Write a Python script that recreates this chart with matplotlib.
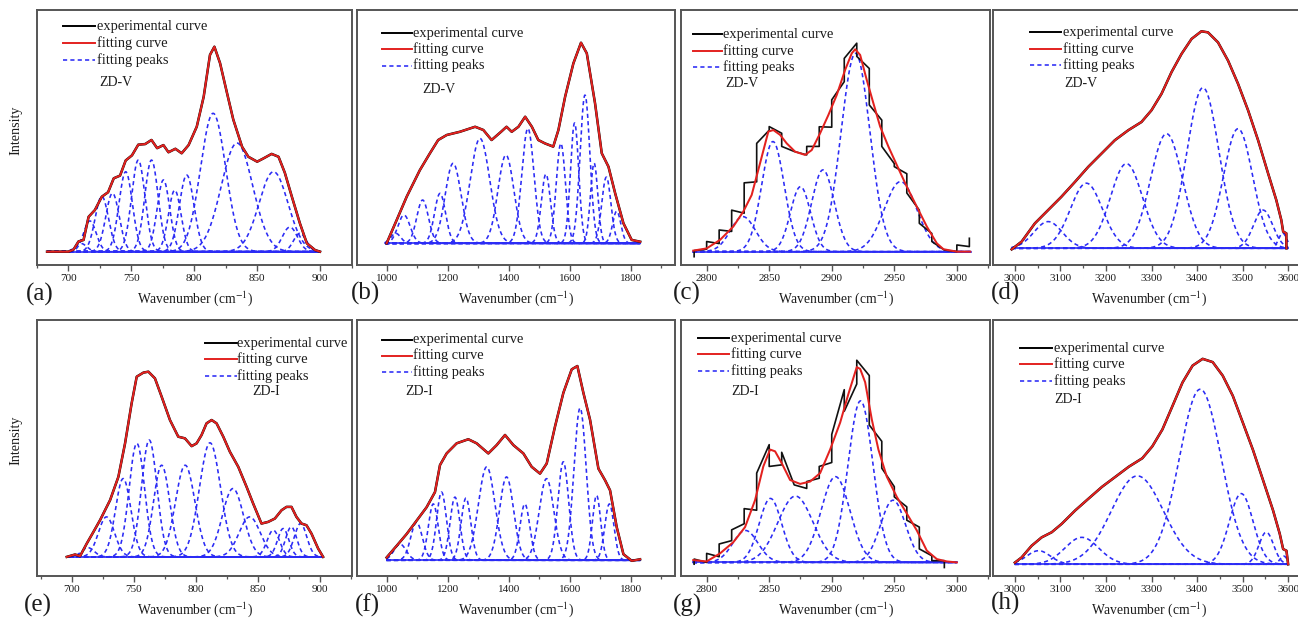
import numpy as np
import matplotlib.pyplot as plt
from matplotlib.ticker import MultipleLocator

plt.rcParams["font.family"] = ["Liberation Serif", "DejaVu Serif"]
plt.rcParams["mathtext.fontset"] = "stix"

RED = "#e3211f"
BLUE = "#2b2bf5"
INK = "#1c1c1c"
FRAME = "#555555"

# ---------------- ZD-V, 700-900 ----------------
a_fit_x = [683, 700, 704, 708, 712, 716, 721, 726.5, 731.5, 736, 741, 745.5, 750.5, 755.5,
           761, 766, 770.5, 775.5, 779.5, 785, 790, 795.5, 802, 807.5, 812.5, 816, 820.5,
           826, 831, 838, 843, 850, 855, 861.5, 867, 872, 877.5, 884, 889.5, 896, 900]
a_fit_y = [0, 0, 0.01, 0.05, 0.057, 0.17, 0.203, 0.268, 0.29, 0.358, 0.371, 0.445, 0.47, 0.522,
           0.525, 0.545, 0.505, 0.52, 0.485, 0.502, 0.48, 0.52, 0.61, 0.756, 0.96, 1.0, 0.92,
           0.775, 0.645, 0.512, 0.463, 0.439, 0.455, 0.477, 0.463, 0.385, 0.27, 0.138, 0.041, 0.008, 0]
a_pos = [710, 717, 726.5, 735, 745.5, 755.5, 766, 775.5, 784.5, 794, 815, 834, 863, 876, 884]
a_amp = [0.04, 0.15, 0.27, 0.285, 0.39, 0.447, 0.447, 0.35, 0.30, 0.374, 0.675, 0.53, 0.39, 0.12, 0.09]
a_sig = [4.5, 5, 5.3, 5.3, 5.3, 5.3, 5.3, 5, 5, 5.8, 10, 12.5, 11.5, 6, 5]

# ---------------- ZD-V, 1000-1800 ----------------
b_fit_x = [1000, 1033, 1066, 1109, 1142, 1169, 1197, 1240, 1290, 1317, 1344, 1375, 1393, 1410,
           1432, 1454, 1476, 1497, 1519, 1546, 1563, 1585, 1612, 1637, 1656, 1683, 1705, 1727,
           1749, 1776, 1803, 1831]
b_fit_y = [0, 0.116, 0.233, 0.365, 0.449, 0.515, 0.54, 0.556, 0.581, 0.565, 0.515, 0.556, 0.581,
           0.556, 0.581, 0.631, 0.581, 0.515, 0.498, 0.482, 0.565, 0.731, 0.897, 1.0, 0.947,
           0.698, 0.449, 0.382, 0.249, 0.1, 0.017, 0.008]
b_pos = [1030, 1057, 1118, 1175, 1218, 1306, 1391, 1463, 1522, 1571, 1616, 1650, 1680, 1720, 1754]
b_amp = [0.05, 0.141, 0.216, 0.249, 0.399, 0.523, 0.44, 0.573, 0.345, 0.498, 0.60, 0.739, 0.40, 0.33, 0.16]
b_sig = [16, 20, 19, 18, 26, 32, 26, 20, 15, 15, 13.5, 16, 12, 15, 13.5]

# ---------------- ZD-V, 2800-3000 ----------------
c_fit_x = [2789.3, 2800, 2810.7, 2821.3, 2829.3, 2836, 2842.7, 2849.3, 2853.3, 2858.7, 2864,
           2870.7, 2878.7, 2884, 2890.7, 2897.3, 2904, 2910.7, 2916, 2918.7, 2922.7, 2928,
           2933.3, 2938.7, 2945.3, 2952, 2960, 2968, 2976, 2984, 2989.3, 3000, 3010.7]
c_fit_y = [0.005, 0.016, 0.058, 0.124, 0.198, 0.28, 0.437, 0.593, 0.601, 0.577, 0.535, 0.494,
           0.478, 0.502, 0.585, 0.675, 0.774, 0.898, 0.98, 1.0, 0.972, 0.848, 0.733, 0.618,
           0.519, 0.428, 0.321, 0.222, 0.124, 0.041, 0.012, 0, 0]
c_exp_x = [2790, 2800, 2810, 2820, 2830, 2840, 2850, 2860, 2870, 2880, 2890, 2900, 2910, 2920,
           2930, 2940, 2950, 2960, 2970, 2980, 2990, 3000, 3010]
c_exp_in = [-0.025, 0.012, 0.040, 0.100, 0.190, 0.345, 0.600, 0.585, 0.495, 0.478, 0.520, 0.615,
            0.840, 1.030, 0.905, 0.650, 0.435, 0.385, 0.205, 0.090, 0.008, 0.000, 0.025]
c_exp_out = [0.005, 0.050, 0.107, 0.205, 0.340, 0.535, 0.618, 0.520, 0.495, 0.520, 0.617, 0.750,
             0.955, 0.965, 0.725, 0.520, 0.420, 0.290, 0.140, 0.050, 0.008, 0.033, 0.066]
c_pos = [2829, 2853, 2875, 2893, 2919, 2955]
c_amp = [0.173, 0.544, 0.321, 0.404, 0.98, 0.346]
c_sig = [10, 9, 8, 9, 11.5, 13]

# ---------------- ZD-V, 3000-3600 ----------------
d_fit_x = [2993, 3015, 3044, 3073, 3102, 3132, 3161, 3190, 3219.5, 3249, 3278, 3300, 3322, 3344,
           3366, 3388, 3409.6, 3424, 3446, 3468, 3490, 3512, 3534, 3556, 3574, 3585, 3589, 3596, 3596.2]
d_fit_y = [-0.005, 0.031, 0.115, 0.176, 0.237, 0.306, 0.375, 0.436, 0.498, 0.544, 0.582, 0.636,
           0.712, 0.812, 0.896, 0.965, 1.0, 0.995, 0.949, 0.865, 0.758, 0.636, 0.498, 0.345,
           0.222, 0.13, 0.077, 0.069, 0]
d_pos = [3073, 3157, 3245, 3333, 3413, 3490, 3545, 3588]
d_amp = [0.123, 0.30, 0.39, 0.528, 0.74, 0.551, 0.176, 0.07]
d_sig = [31, 35, 35, 35, 35, 32, 21, 9]

# ---------------- ZD-I, 700-900 ----------------
e_fit_x = [696, 702.7, 706.7, 712.1, 717.5, 722.8, 730.9, 737.6, 743, 748.3, 752.4, 757.8, 761.8,
           767.1, 772.5, 779.2, 785.9, 791.3, 796.7, 800.7, 804.7, 808.7, 812.8, 816.8, 822.2,
           827.5, 834.3, 841, 846.3, 853, 858.4, 863.8, 869.2, 873.2, 877.2, 881.2, 885.3,
           889.3, 893.3, 898.7, 902.7]
e_fit_y = [0, 0.013, 0.004, 0.072, 0.135, 0.198, 0.306, 0.432, 0.613, 0.829, 0.973, 0.995, 1.0,
           0.964, 0.865, 0.739, 0.649, 0.64, 0.598, 0.613, 0.658, 0.721, 0.739, 0.721, 0.649,
           0.568, 0.486, 0.378, 0.288, 0.18, 0.189, 0.207, 0.252, 0.27, 0.27, 0.216, 0.18,
           0.171, 0.126, 0.045, 0]
e_pos = [713, 728, 741.5, 752.5, 762.5, 772.5, 791.5, 811.5, 830, 843.5, 862.5, 870.5, 877, 884.5]
e_amp = [0.05, 0.216, 0.423, 0.613, 0.631, 0.495, 0.495, 0.616, 0.369, 0.216, 0.144, 0.153, 0.162, 0.18]
e_sig = [5, 6.5, 6.2, 6.2, 6.2, 6.5, 7.8, 8.5, 8.5, 8.5, 5, 4.5, 4.5, 5]

# ---------------- ZD-I, 1000-1800 ----------------
f_fit_x = [1000, 1032.8, 1065.6, 1098.4, 1131.1, 1158.5, 1174.9, 1196.7, 1229.5, 1267.8, 1295.1,
           1333.3, 1360.7, 1388, 1415.3, 1448.1, 1475.4, 1502.7, 1524.6, 1551.9, 1579.2, 1606.6,
           1625.1, 1644.8, 1666.7, 1694, 1715.8, 1732.2, 1754.1, 1776, 1803.3, 1830.6]
f_fit_y = [0.014, 0.074, 0.135, 0.204, 0.273, 0.351, 0.49, 0.55, 0.602, 0.623, 0.602, 0.55, 0.593,
           0.645, 0.593, 0.55, 0.481, 0.446, 0.498, 0.689, 0.862, 0.983, 1.0, 0.862, 0.723,
           0.472, 0.412, 0.36, 0.17, 0.031, -0.003, 0.005]
f_pos = [1044, 1098, 1153, 1180, 1224, 1260, 1328, 1393, 1453, 1524, 1579, 1634, 1688, 1730]
f_amp = [0.083, 0.195, 0.29, 0.351, 0.325, 0.32, 0.481, 0.429, 0.29, 0.42, 0.507, 0.784, 0.334, 0.29]
f_sig = [20, 19, 16, 16, 16, 16, 27, 23, 16, 24, 17.5, 20, 13.5, 15]

# ---------------- ZD-I, 2800-3000 ----------------
g_fit_x = [2789.3, 2800, 2810.7, 2821.3, 2830.7, 2838.7, 2845.3, 2850.7, 2854.7, 2860, 2866.7,
           2874.7, 2882.7, 2890.7, 2898.7, 2906.7, 2913.3, 2920, 2922.7, 2926.7, 2932, 2937.3,
           2944, 2952, 2960, 2968, 2976, 2984, 2992, 3000]
g_fit_y = [0.012, 0.005, 0.046, 0.103, 0.18, 0.317, 0.489, 0.575, 0.566, 0.506, 0.42, 0.4, 0.412,
           0.455, 0.575, 0.712, 0.858, 0.995, 0.986, 0.918, 0.729, 0.575, 0.437, 0.334, 0.249,
           0.163, 0.06, 0.017, 0.005, 0]
g_exp_x = [2790, 2800, 2810, 2820, 2830, 2840, 2850, 2860, 2870, 2880, 2890, 2900, 2910, 2920,
           2930, 2940, 2950, 2960, 2970, 2980, 2990]
g_exp_in = [-0.009, 0.000, 0.029, 0.111, 0.197, 0.266, 0.600, 0.497, 0.395, 0.377, 0.429, 0.509,
            0.880, 0.909, 0.952, 0.617, 0.386, 0.283, 0.180, 0.034, 0.009]
g_exp_out = [0.017, 0.046, 0.094, 0.166, 0.274, 0.455, 0.489, 0.561, 0.395, 0.412, 0.489, 0.652,
             0.770, 1.030, 0.700, 0.480, 0.334, 0.215, 0.069, 0.009, -0.026]
g_pos = [2831, 2851, 2871, 2903, 2923, 2949]
g_amp = [0.163, 0.326, 0.338, 0.437, 0.823, 0.317]
g_sig = [10, 9, 14, 11.5, 10, 10]

# ---------------- ZD-I, 3000-3600 ----------------
h_fit_x = [3000, 3014.7, 3036.8, 3058.9, 3081, 3103, 3132.5, 3162, 3191.4, 3220.9, 3250.3, 3279.8,
           3301.8, 3323.9, 3346, 3368.1, 3390.2, 3412.3, 3434.4, 3456.4, 3478.5, 3500.6, 3522.7,
           3544.8, 3566.9, 3581.6, 3589, 3596.3, 3600]
h_fit_y = [0.008, 0.033, 0.09, 0.131, 0.156, 0.197, 0.262, 0.32, 0.377, 0.426, 0.475, 0.516,
           0.574, 0.656, 0.77, 0.885, 0.967, 1.0, 0.984, 0.918, 0.82, 0.689, 0.557, 0.41, 0.262,
           0.148, 0.074, 0.066, 0]
h_pos = [3052, 3147, 3269, 3407, 3497, 3552, 3590]
h_amp = [0.066, 0.131, 0.43, 0.852, 0.344, 0.156, 0.04]
h_sig = [26, 37, 57, 46, 26, 16, 8]

labels = ["experimental curve", "fitting curve", "fitting peaks"]


def gauss(x, pos, amp, sig):
    return amp * np.exp(-0.5 * ((x - pos) / sig) ** 2)


def steps(xs, y_in, y_out):
    # every sample is a short vertical jump, then a slope to the next one
    return np.repeat(xs, 2), np.column_stack([y_in, y_out]).ravel()


def panel(rect, fit_x, fit_y, pos, amp, sig, span, xlim, ylim, major, minor, exp=None):
    ax = fig.add_axes(rect)
    xs = np.linspace(span[0], span[1], 900)
    for p, a, s in zip(pos, amp, sig):
        ax.plot(xs, gauss(xs, p, a, s), color=BLUE, lw=1.15, dashes=(2.6, 2.0))
    ax.plot(span, [0, 0], color=BLUE, lw=1.2)
    if exp is None:
        ax.plot(fit_x, fit_y, color="black", lw=1.8)
    else:
        ax.plot(exp[0], exp[1], color="#111111", lw=1.2)
    ax.plot(fit_x, fit_y, color=RED, lw=1.45)
    ax.set_xlim(*xlim)
    ax.set_ylim(*ylim)
    ax.set_yticks([])
    ax.xaxis.set_major_locator(MultipleLocator(major))
    ax.xaxis.set_minor_locator(MultipleLocator(minor))
    ax.tick_params(axis="x", which="major", direction="out", length=4, width=1.0,
                   color=FRAME, labelsize=8, labelcolor=INK, pad=2.5)
    ax.tick_params(axis="x", which="minor", direction="out", length=2.5, width=0.9, color=FRAME)
    for sp in ax.spines.values():
        sp.set_color(FRAME)
        sp.set_linewidth(1.4)
    ax.text(0.5, -0.13, "Wavenumber (cm$^{-1}$)", transform=ax.transAxes,
            ha="center", va="center", fontsize=9.8, color=INK)
    return ax


def key(ax, hx0, hx1, tx, rows, tag_xy, tag):
    styles = [dict(color="black", lw=1.4),
              dict(color=RED, lw=1.4),
              dict(color=BLUE, lw=1.15, dashes=(2.6, 2.0))]
    for y, st, lab in zip(rows, styles, labels):
        ax.plot([hx0, hx1], [y, y], transform=ax.transAxes, **st)
        ax.text(tx, y, lab, transform=ax.transAxes, ha="left", va="center",
                fontsize=10.4, color=INK)
    ax.text(tag_xy[0], tag_xy[1], tag, transform=ax.transAxes, ha="left", va="center",
            fontsize=10, color=INK)


fig = plt.figure(figsize=(12.98, 6.18), dpi=100)

top_b, top_h = 0.5712, 0.4126
bot_b, bot_h = 0.0680, 0.4142
cols = [(0.02851, 0.24268), (0.27504, 0.24499), (0.52465, 0.23806), (0.76502, 0.24037)]

ax = panel([cols[0][0], top_b, cols[0][1], top_h], a_fit_x, a_fit_y, a_pos, a_amp, a_sig,
           (683, 900), (675, 925.4), (-0.065, 1.179), 50, 25)
key(ax, 0.083, 0.184, 0.19, [0.937, 0.872, 0.805], (0.197, 0.714), "ZD-V")

ax = panel([cols[1][0], top_b, cols[1][1], top_h], b_fit_x, b_fit_y, b_pos, b_amp, b_sig,
           (995, 1831), (903, 1945), (-0.108, 1.163), 200, 100)
key(ax, 0.078, 0.172, 0.175, [0.909, 0.846, 0.782], (0.205, 0.69), "ZD-V")

ax = panel([cols[2][0], top_b, cols[2][1], top_h], c_fit_x, c_fit_y, c_pos, c_amp, c_sig,
           (2789, 3011), (2779.5, 3026.5), (-0.066, 1.194), 50, 25,
           exp=steps(c_exp_x, c_exp_in, c_exp_out))
key(ax, 0.04, 0.132, 0.137, [0.905, 0.840, 0.777], (0.142, 0.712), "ZD-V")

ax = panel([cols[3][0], top_b, cols[3][1], top_h], d_fit_x, d_fit_y, d_pos, d_amp, d_sig,
           (2993, 3600), (2952, 3637), (-0.077, 1.098), 100, 50)
key(ax, 0.119, 0.218, 0.223, [0.912, 0.847, 0.784], (0.228, 0.712), "ZD-V")

ax = panel([cols[0][0], bot_b, cols[0][1], bot_h], e_fit_x, e_fit_y, e_pos, e_amp, e_sig,
           (698, 903), (672, 926), (-0.103, 1.279), 50, 25)
key(ax, 0.533, 0.634, 0.636, [0.909, 0.846, 0.782], (0.682, 0.72), "ZD-I")

ax = panel([cols[1][0], bot_b, cols[1][1], bot_h], f_fit_x, f_fit_y, f_pos, f_amp, f_sig,
           (1000, 1831), (903, 1945), (-0.081, 1.237), 200, 100)
key(ax, 0.078, 0.172, 0.175, [0.922, 0.861, 0.798], (0.151, 0.719), "ZD-I")

ax = panel([cols[2][0], bot_b, cols[2][1], bot_h], g_fit_x, g_fit_y, g_pos, g_amp, g_sig,
           (2789, 3000), (2779.5, 3026.5), (-0.069, 1.235), 50, 25,
           exp=steps(g_exp_x, g_exp_in, g_exp_out))
key(ax, 0.056, 0.156, 0.161, [0.928, 0.866, 0.801], (0.164, 0.719), "ZD-I")

ax = panel([cols[3][0], bot_b, cols[3][1], bot_h], h_fit_x, h_fit_y, h_pos, h_amp, h_sig,
           (3000, 3600), (2952, 3637), (-0.057, 1.189), 100, 50)
key(ax, 0.087, 0.188, 0.194, [0.889, 0.827, 0.762], (0.196, 0.6875), "ZD-I")

# panel letters and the shared y label
W, H = 1298.0, 618.0
for tag, x, y in [("(a)", 40, 294), ("(b)", 365, 293), ("(c)", 687, 293), ("(d)", 1005, 293),
                  ("(e)", 38, 605), ("(f)", 367, 605), ("(g)", 688, 605), ("(h)", 1006, 603)]:
    fig.text(x / W, 1 - y / H, tag, ha="center", va="center", fontsize=18, color=INK)
for y in (130, 440):
    fig.text(16 / W, 1 - y / H, "Intensity", rotation=90, ha="center", va="center",
             fontsize=10.2, color=INK)

fig.savefig("out.png", dpi=100)
